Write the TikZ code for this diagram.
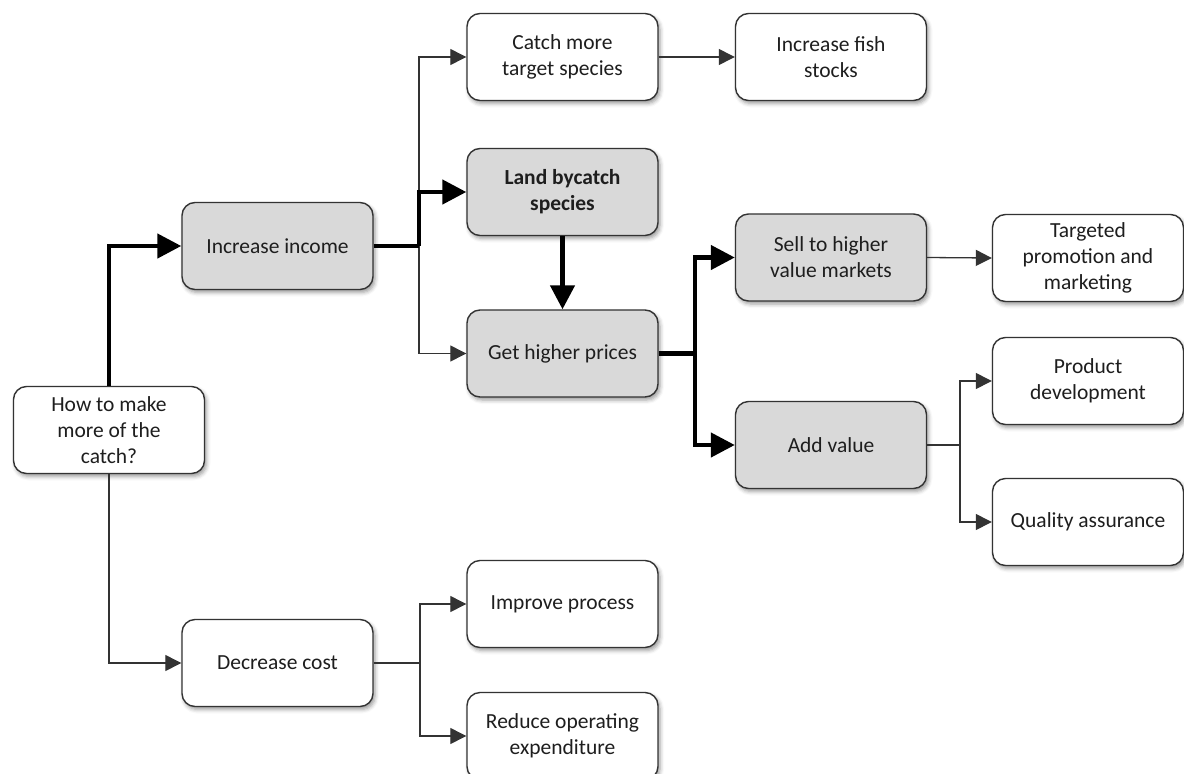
\documentclass[tikz,border=0pt]{standalone}
\usepackage{fontspec}
\setmainfont{Carlito}
\usetikzlibrary{arrows.meta,shadows.blur}

\definecolor{boxgray}{HTML}{D9D9D9}
\definecolor{edgegray}{HTML}{333333}
\definecolor{textgray}{HTML}{1E1E1E}

\newcommand{\cardfont}{\fontsize{21.5pt}{26pt}\selectfont}

\tikzset{
  card/.style={draw=edgegray, line width=1.4pt, rounded corners=13pt,
    minimum width=191pt, minimum height=87pt, inner sep=2pt,
    align=center, text=textgray, font=\cardfont,
    blur shadow={shadow xshift=2pt, shadow yshift=-3pt,
      shadow blur radius=4pt, shadow opacity=40},
    fill=white},
  shaded/.style={card, fill=boxgray},
  thinlink/.style={draw=edgegray, line width=1.3pt,
    -{Triangle[length=16pt,width=16pt]}},
  thinline/.style={draw=edgegray, line width=1.3pt},
  thicklink/.style={draw=black, line width=4.5pt,
    -{Triangle[length=24pt,width=24pt]}},
  thickline/.style={draw=black, line width=4.5pt}
}

\begin{document}
\begin{tikzpicture}[x=1pt,y=-1pt]
\useasboundingbox (0,0) rectangle (1184,774);

% boxes
\node[card]   (root)   at (109,430)   {How to make\\more of the\\catch?};
\node[shaded] (inc)    at (277.5,246) {Increase income};
\node[card]   (dec)    at (277.5,663) {Decrease cost};
\node[card]   (catch)  at (562.5,57)  {Catch more\\target species};
\node[card]   (fish)   at (831,57)    {Increase fish\\stocks};
\node[shaded, font=\cardfont\bfseries]
              (land)   at (562.5,192) {Land bycatch\\species};
\node[shaded] (price)  at (562.5,353.5) {Get higher prices};
\node[shaded] (sell)   at (831,257.5) {Sell to higher\\value markets};
\node[card]   (target) at (1088,258)  {Targeted\\promotion and\\marketing};
\node[shaded] (addv)   at (831,445)   {Add value};
\node[card]   (prod)   at (1088,381)  {Product\\development};
\node[card]   (qual)   at (1088,522)  {Quality assurance};
\node[card]   (impr)   at (562.5,604) {Improve process};
\node[card]   (red)    at (562.5,736) {Reduce operating\\expenditure};

% branch points
\coordinate (b1) at (419,246);
\coordinate (b2) at (695,353.5);
\coordinate (b3) at (960,445);
\coordinate (b4) at (420,663);

% thin connectors
\draw[thinlink] (root.south) |- (dec.west);
\draw[thinlink] (b1) |- (catch.west);
\draw[thinlink] (b1) |- (price.west);
\draw[thinlink] (catch.east) -- (fish.west);
\draw[thinlink] (sell.east) -- (target.west);
\draw[thinline] (addv.east) -- (b3);
\draw[thinlink] (b3) |- (prod.west);
\draw[thinlink] (b3) |- (qual.west);
\draw[thinline] (dec.east) -- (b4);
\draw[thinlink] (b4) |- (impr.west);
\draw[thinlink] (b4) |- (red.west);

% thick connectors along the main path
\draw[thicklink] (root.north) |- (inc.west);
\draw[thickline] (inc.east) -- (b1);
\draw[thicklink] (b1) |- (land.west);
\draw[thicklink] (land.south) -- (price.north);
\draw[thickline] (price.east) -- (b2);
\draw[thicklink] (b2) |- (sell.west);
\draw[thicklink] (b2) |- (addv.west);
\end{tikzpicture}
\end{document}
